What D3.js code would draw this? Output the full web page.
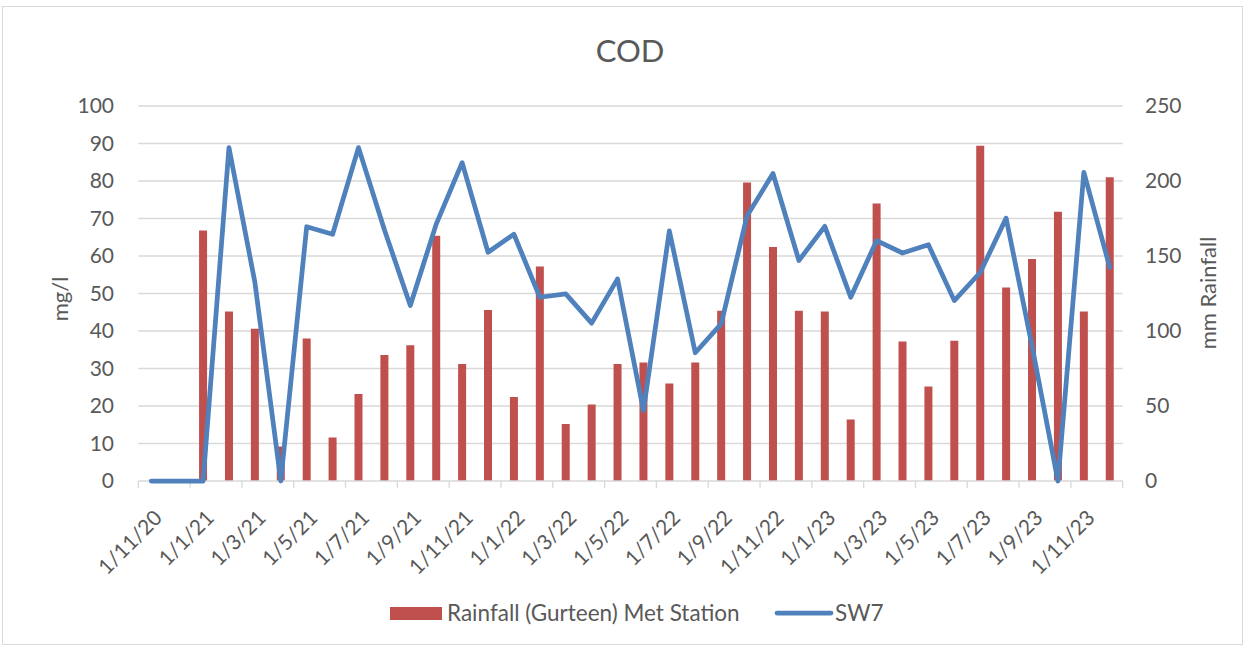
<!DOCTYPE html>
<html>
<head>
<meta charset="utf-8">
<script src="https://cdn.jsdelivr.net/npm/d3@7/dist/d3.min.js"></script>
<style>
  html, body { margin: 0; padding: 0; background: #fff; }
  svg { display: block; }
  text { font-family: "Lato", "Open Sans", sans-serif; fill: #595959; }
</style>
</head>
<body>
<svg id="chart" width="1248" height="649"></svg>
<script>
// ---- data ----
const months = ["1/11/20","1/12/20","1/1/21","1/2/21","1/3/21","1/4/21","1/5/21","1/6/21","1/7/21","1/8/21","1/9/21","1/10/21","1/11/21","1/12/21",
  "1/1/22","1/2/22","1/3/22","1/4/22","1/5/22","1/6/22","1/7/22","1/8/22","1/9/22","1/10/22","1/11/22","1/12/22",
  "1/1/23","1/2/23","1/3/23","1/4/23","1/5/23","1/6/23","1/7/23","1/8/23","1/9/23","1/10/23","1/11/23","1/12/23"];
// Rainfall (mm, right axis)
const rainfall = [null,null,167,113,101.5,23,95,29,58,84,90.5,163.5,78,114,
  56,143,38,51,78,79,65,79,113.5,199,156,113.5,
  113,41,185,93,63,93.5,223.5,129,148,179.5,113,202.5];
// SW7 COD (mg/l, left axis)
const sw7 = [0,0,0,88.9,53,0,67.8,65.8,88.9,67,46.8,68.5,84.9,61,
  65.8,49,49.9,42.1,53.9,18.8,66.7,34.2,41.9,70.7,82,58.8,
  67.9,49,64.1,60.8,63,48.1,55.6,70.1,36,0,82.3,57];
const leftTicks = [0,10,20,30,40,50,60,70,80,90,100];
const rightTicks = [0,50,100,150,200,250];
const labelMonths = months.filter((d,i) => i % 2 === 0);

const svg = d3.select("#chart");
const plot = {left: 138.3, right: 1122.7, top: 106, bottom: 481};
const tickFont = 21;

// border
svg.append("rect").attr("x", 2.5).attr("y", 6.5).attr("width", 1240).attr("height", 638)
  .attr("fill", "#fff").attr("stroke", "#d9d9d9").attr("stroke-width", 1);

const x = d3.scaleBand().domain(months).range([plot.left, plot.right]).paddingInner(0).paddingOuter(0);
const yL = d3.scaleLinear().domain([0,100]).range([plot.bottom, plot.top]);
const yR = d3.scaleLinear().domain([0,250]).range([plot.bottom, plot.top]);

// gridlines
svg.append("g").selectAll("line").data(leftTicks.filter(d => d > 0)).join("line")
  .attr("x1", plot.left).attr("x2", plot.right)
  .attr("y1", d => yL(d)).attr("y2", d => yL(d))
  .attr("stroke", "#d9d9d9").attr("stroke-width", 1.3);

// bars
const bw = 8;
svg.append("g").selectAll("rect").data(months.map((m,i) => ({m, v: rainfall[i]})).filter(d => d.v != null)).join("rect")
  .attr("x", d => x(d.m) + x.bandwidth()/2 - bw/2)
  .attr("width", bw)
  .attr("y", d => yR(d.v))
  .attr("height", d => yR(0) - yR(d.v))
  .attr("fill", "#C0504D");

// x axis line + ticks
svg.append("line").attr("x1", plot.left).attr("x2", plot.right)
  .attr("y1", plot.bottom).attr("y2", plot.bottom)
  .attr("stroke", "#d9d9d9").attr("stroke-width", 1.3);
const tickPos = d3.range(0, months.length + 1, 2).map(i => plot.left + i * x.step());
svg.append("g").selectAll("line").data(tickPos).join("line")
  .attr("x1", d => d).attr("x2", d => d)
  .attr("y1", plot.bottom).attr("y2", plot.bottom + 7)
  .attr("stroke", "#d9d9d9").attr("stroke-width", 1.3);

// line
const line = d3.line().x((d,i) => x(months[i]) + x.bandwidth()/2).y(d => yL(d));
svg.append("path").datum(sw7).attr("d", line)
  .attr("fill", "none").attr("stroke", "#4F81BD").attr("stroke-width", 4.75)
  .attr("stroke-linejoin", "round").attr("stroke-linecap", "round");

// left axis labels
svg.append("g").selectAll("text").data(leftTicks).join("text")
  .attr("x", 114).attr("y", d => yL(d)).attr("dy", "0.35em")
  .attr("text-anchor", "end").attr("font-size", tickFont).text(d => d);
// right axis labels
svg.append("g").selectAll("text").data(rightTicks).join("text")
  .attr("x", 1145).attr("y", d => yR(d)).attr("dy", "0.35em")
  .attr("text-anchor", "start").attr("font-size", tickFont).text(d => d);

// x labels
svg.append("g").selectAll("text").data(labelMonths).join("text")
  .attr("transform", d => `translate(${x(d) + x.bandwidth()/2 + 7},${514}) rotate(-45)`)
  .attr("dy", "0.35em").attr("text-anchor", "end").attr("font-size", tickFont).text(d => d);

// title
svg.append("text").attr("x", 630).attr("y", 62).attr("text-anchor", "middle")
  .attr("font-size", 31).text("COD");

// axis titles
svg.append("text").attr("transform", "translate(68,299) rotate(-90)")
  .attr("text-anchor", "middle").attr("font-size", 22).text("mg/l");
svg.append("text").attr("transform", "translate(1216,293) rotate(-90)")
  .attr("text-anchor", "middle").attr("font-size", 22).text("mm Rainfall");

// legend
const lg = svg.append("g");
lg.append("rect").attr("x", 390).attr("y", 607).attr("width", 52).attr("height", 13).attr("fill", "#C0504D");
lg.append("text").attr("x", 447).attr("y", 613).attr("dy", "0.35em").attr("font-size", 22.5).text("Rainfall (Gurteen) Met Station");
lg.append("line").attr("x1", 777).attr("x2", 831).attr("y1", 613).attr("y2", 613)
  .attr("stroke", "#4F81BD").attr("stroke-width", 4.75).attr("stroke-linecap", "round");
lg.append("text").attr("x", 835).attr("y", 613).attr("dy", "0.35em").attr("font-size", 22.5).text("SW7");
</script>
</body>
</html>
